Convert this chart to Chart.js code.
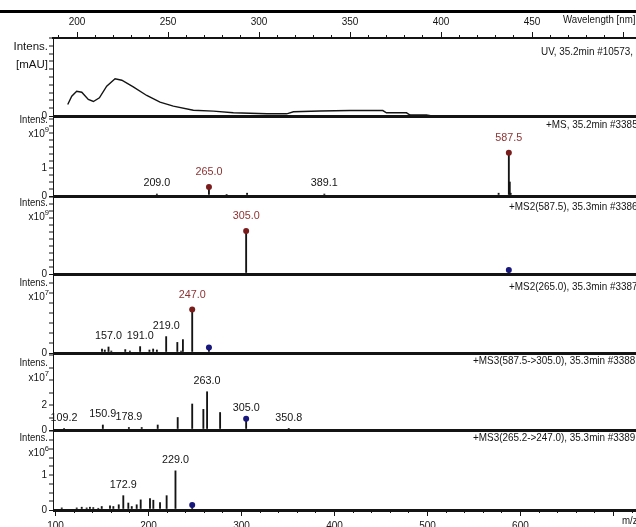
<!DOCTYPE html>
<html>
<head>
<meta charset="utf-8">
<title>UV and MS spectra, 35.2–35.3 min</title>
<script src="https://cdn.jsdelivr.net/npm/chart.js@4.4.1/dist/chart.umd.min.js"></script>
<style>
  html, body { margin: 0; padding: 0; background: #fff; }
  #stage { position: relative; width: 636px; height: 527px; overflow: hidden; background: #fff; }
  #stage canvas { position: absolute; left: 0; }
  #rule { position: absolute; left: 0; top: 10px; width: 636px; border-top: 3px solid #000; }
</style>
</head>
<body>
<div id="stage"><div id="rule"></div></div>
<script>
// ---- UV spectrum, 35.2 min ----
const uvWavelength = [194.9, 197.1, 199.8, 202.6, 206.2, 209.0, 212.3, 216.3, 220.9, 224.6, 230.9, 238.3, 245.6, 252.9, 263.9, 274.9, 285.9, 304.3, 315.2, 318.9, 333.5, 350.0, 368.0, 370.0, 381.0, 383.0, 392.0, 395.0];
const uvAbsorbance = [14.7, 25.4, 31.8, 30.5, 21.2, 18.6, 23.3, 38.2, 47.7, 45.9, 37.4, 26.3, 17.7, 12.6, 7.4, 6.2, 4.1, 2.8, 2.8, 5.4, 6.4, 7.0, 7.0, 4.1, 4.1, 1.3, 1.3, 0.0];

// ---- +MS, 35.2 min #3385 (x10^9) ----
const msMz        = [209.0, 265.0, 284.0, 306.0, 389.1, 576.5, 587.5, 588.5, 589.5];
const msIntensity = [0.07, 0.32, 0.05, 0.10, 0.07, 0.10, 1.54, 0.50, 0.10];
const msLabelled  = [209.0, 265.0, 389.1, 587.5];
const msMarked    = [265.0, 587.5];

// ---- +MS2(587.5), 35.3 min #3386 (x10^9) ----
const ms2aMz        = [305.0, 587.5];
const ms2aIntensity = [1.54, 0.14];
const ms2aLabelled  = [305.0];
const ms2aMarked    = [305.0];
const ms2aPrecursor = [587.5];

// ---- +MS2(265.0), 35.3 min #3387 (x10^7) ----
const ms2bMz        = [150.0, 153.0, 157.0, 160.0, 175.0, 180.0, 191.0, 201.0, 205.0, 209.0, 219.0, 231.0, 235.0, 237.0, 247.0, 265.0];
const ms2bIntensity = [0.20, 0.15, 0.30, 0.10, 0.17, 0.10, 0.32, 0.15, 0.20, 0.15, 0.82, 0.53, 0.10, 0.67, 2.17, 0.28];
const ms2bLabelled  = [157.0, 191.0, 219.0, 247.0];
const ms2bMarked    = [247.0];
const ms2bPrecursor = [265.0];

// ---- +MS3(587.5->305.0), 35.3 min #3388 (x10^7) ----
const ms3aMz        = [109.2, 150.9, 178.9, 192.7, 209.9, 231.4, 247.0, 259.0, 263.0, 277.0, 305.0, 350.8];
const ms3aIntensity = [0.08, 0.40, 0.20, 0.20, 0.40, 1.00, 2.08, 1.65, 3.06, 1.40, 0.90, 0.10];
const ms3aLabelled  = [109.2, 150.9, 178.9, 263.0, 305.0, 350.8];
const ms3aMarked    = [];
const ms3aPrecursor = [305.0];

// ---- +MS3(265.2->247.0), 35.3 min #3389 (x10^6) ----
const ms3bMz        = [106.7, 122.8, 128.2, 133.5, 137.0, 140.6, 146.0, 149.7, 158.6, 162.2, 168.0, 172.9, 178.3, 182.0, 187.3, 191.6, 201.6, 205.2, 212.4, 219.5, 229.0, 247.0];
const ms3bIntensity = [0.06, 0.06, 0.08, 0.06, 0.08, 0.07, 0.05, 0.10, 0.12, 0.10, 0.15, 0.41, 0.20, 0.10, 0.15, 0.29, 0.33, 0.28, 0.21, 0.41, 1.12, 0.14];
const ms3bLabelled  = [172.9, 229.0];
const ms3bMarked    = [];
const ms3bPrecursor = [247.0];

// ---- axis ticks ----
const wavelengthTicks = [200, 250, 300, 350, 400, 450];
const mzTicks = [100, 200, 300, 400, 500, 600];

// ---- drawing setup ----
const FONT = "'Liberation Sans', Arial, sans-serif";
const INK = '#141414';
const RED_MARK = '#7a1c1c', RED_TEXT = '#8e3232', BLUE_MARK = '#17177c';
const MZ_MIN = 97.3, MZ_MAX = 739.3;
const WL_MIN = 186.8, WL_MAX = 514.8;
const CANVAS_W = 660, PAD_RIGHT = 10, AXIS_W = 53;

const pts = (xs, ys) => xs.map((x, i) => ({ x, y: ys[i] }));
const pick = (mzs, intens, wanted) => wanted.map(m => ({ x: m, y: intens[mzs.indexOf(m)] }));

// condensed lettering: draw with a horizontal squeeze
function squeezed(ctx, str, x, y, align, size, sx) {
  ctx.save();
  ctx.translate(x, y);
  ctx.scale(sx, 1);
  ctx.font = size + 'px ' + FONT;
  ctx.textAlign = align;
  ctx.textBaseline = 'middle';
  ctx.fillText(str, 0, 0);
  const w = ctx.measureText(str).width * sx;
  ctx.restore();
  return w;
}

// Text layer: peak labels, intensity captions, trace titles, axis titles
const spectrumText = {
  id: 'spectrumText',
  afterDraw(chart, args, o) {
    const { ctx, chartArea: a } = chart;
    ctx.save();
    if (o.labelled) {
      const ds = chart.data.datasets[0];
      const meta = chart.getDatasetMeta(0);
      o.labelled.forEach(mz => {
        const i = ds.data.findIndex(p => p.x === mz);
        if (i < 0) return;
        const el = meta.data[i];
        const red = o.marked.includes(mz);
        ctx.fillStyle = red ? RED_TEXT : INK;
        squeezed(ctx, mz.toFixed(1), el.x, el.y - (red ? 15 : 11), 'center', 11, 0.98);
      });
    }
    ctx.fillStyle = INK;
    const cs = o.capSize, cx = o.capSx;
    squeezed(ctx, 'Intens.', 48, a.top + o.capY[0], 'right', cs, cx);
    if (o.unit) squeezed(ctx, o.unit, 48, a.top + o.capY[1], 'right', cs, cx);
    if (o.exp) {
      const w = squeezed(ctx, o.exp, 49, a.top + o.capY[1] - 4, 'right', 8, 0.95);
      squeezed(ctx, 'x10', 49 - w, a.top + o.capY[1], 'right', 11, 0.92);
    }
    squeezed(ctx, o.title, o.titleX, a.top + o.titleY, 'left', 11, 0.9);
    if (o.axisText) squeezed(ctx, o.axisText.text, o.axisText.x, o.axisText.y, 'left', 10, 0.97);
    ctx.restore();
  }
};
Chart.register(spectrumText);

const panels = [
  { kind: 'uv', top: 38, bottom: 116, yMax: 100, yStep: 10, yLabels: [0],
    title: 'UV, 35.2min #10573,', titleX: 541, titleY: 14, capY: [9, 27], capSize: 10, capSx: 1.15, unit: '[mAU]' },
  { kind: 'ms', top: 117, bottom: 196, yMax: 2.82, yStep: 0.25, yLabels: [0, 1],
    mz: msMz, inten: msIntensity, labelled: msLabelled, marked: msMarked, precursor: [],
    title: '+MS, 35.2min #3385', titleX: 546, titleY: 8, capY: [3, 17], exp: '9' },
  { kind: 'ms', top: 197, bottom: 274, yMax: 2.75, yStep: 0.25, yLabels: [0],
    mz: ms2aMz, inten: ms2aIntensity, labelled: ms2aLabelled, marked: ms2aMarked, precursor: ms2aPrecursor,
    title: '+MS2(587.5), 35.3min #3386', titleX: 509, titleY: 10, capY: [6, 20], exp: '9' },
  { kind: 'ms', top: 275, bottom: 353, yMax: 3.9, yStep: 0.5, yLabels: [0],
    mz: ms2bMz, inten: ms2bIntensity, labelled: ms2bLabelled, marked: ms2bMarked, precursor: ms2bPrecursor,
    title: '+MS2(265.0), 35.3min #3387', titleX: 509, titleY: 12, capY: [8, 22], exp: '7' },
  { kind: 'ms', top: 354, bottom: 430, yMax: 6.08, yStep: 1, yLabels: [0, 2],
    mz: ms3aMz, inten: ms3aIntensity, labelled: ms3aLabelled, marked: ms3aMarked, precursor: ms3aPrecursor,
    title: '+MS3(587.5->305.0), 35.3min #3388', titleX: 473, titleY: 7, capY: [9, 24], exp: '7' },
  { kind: 'ms', top: 431, bottom: 510, yMax: 2.26, yStep: 0.25, yLabels: [0, 1], bottomAxis: true,
    mz: ms3bMz, inten: ms3bIntensity, labelled: ms3bLabelled, marked: ms3bMarked, precursor: ms3bPrecursor,
    title: '+MS3(265.2->247.0), 35.3min #3389', titleX: 473, titleY: 7, capY: [7, 22], exp: '6' }
];

function yScale(p) {
  return {
    type: 'linear', position: 'left', min: 0, max: p.yMax,
    afterFit: s => { s.width = AXIS_W; },
    ticks: {
      stepSize: p.yStep, autoSkip: false, includeBounds: false, padding: 2,
      color: INK, font: { family: FONT, size: 10 },
      callback: v => p.yLabels.includes(v) ? String(v) : ''
    },
    grid: {
      drawOnChartArea: true, drawTicks: true, tickLength: 4, tickWidth: 1, tickColor: INK,
      color: c => (c.tick && c.tick.value === 0) ? INK : 'rgba(0,0,0,0)',
      lineWidth: c => (c.tick && c.tick.value === 0) ? 3 : 0
    },
    border: { display: true, color: INK, width: 1 }
  };
}

function xPair(min, max, pos, majorStep, minorStep, labels, height, show) {
  return {
    x: {
      type: 'linear', position: pos, min, max, weight: 1, offset: false, display: show,
      afterFit: s => { s.height = height; },
      ticks: {
        stepSize: majorStep, includeBounds: false, autoSkip: false, maxRotation: 0,
        padding: 4, color: INK, font: { family: FONT, size: 10 },
        callback: v => labels.includes(v) ? String(v) : ''
      },
      grid: { offset: false, drawOnChartArea: false, drawTicks: true, tickLength: 6, tickWidth: 1, tickColor: INK },
      border: { display: pos === 'top', color: INK, width: 2 }
    },
    xMinor: {
      type: 'linear', position: pos, min, max, weight: 0, offset: false, display: show,
      afterFit: s => { s.height = 0; },
      ticks: { stepSize: minorStep, includeBounds: false, autoSkip: false, callback: () => '' },
      grid: { offset: false, drawOnChartArea: false, drawTicks: true, tickLength: 3, tickWidth: 1, tickColor: INK },
      border: { display: false }
    }
  };
}

const stage = document.getElementById('stage');

panels.forEach(p => {
  const isUV = p.kind === 'uv';
  const axisH = isUV ? 28 : (p.bottomAxis ? 17 : 0);
  const padTop = isUV ? 10 : 12;
  const padBottom = p.bottomAxis ? 5 : 10;
  const canvasTop = p.top - padTop - (isUV ? axisH : 0);
  const canvasH = (p.bottom - p.top) + padTop + padBottom + axisH;

  const cv = document.createElement('canvas');
  cv.width = CANVAS_W; cv.height = canvasH;
  cv.style.width = CANVAS_W + 'px'; cv.style.height = canvasH + 'px';
  cv.style.top = canvasTop + 'px';
  stage.appendChild(cv);

  let datasets, xs;
  if (isUV) {
    datasets = [{
      type: 'line', data: pts(uvWavelength, uvAbsorbance),
      borderColor: INK, borderWidth: 1.4, pointRadius: 0, tension: 0, fill: false
    }];
    xs = xPair(WL_MIN, WL_MAX, 'top', 50, 10, wavelengthTicks, axisH, true);
  } else {
    datasets = [
      { type: 'bar', data: pts(p.mz, p.inten), backgroundColor: INK, borderWidth: 0,
        barThickness: 1.2, grouped: false, order: 2 },
      { type: 'scatter', data: pick(p.mz, p.inten, p.marked), pointStyle: 'circle',
        pointRadius: 3, backgroundColor: RED_MARK, borderWidth: 0, order: 1 },
      { type: 'scatter', data: pick(p.mz, p.inten, p.precursor), pointStyle: 'circle',
        pointRadius: 3, backgroundColor: BLUE_MARK, borderWidth: 0, order: 1 }
    ];
    xs = xPair(MZ_MIN, MZ_MAX, 'bottom', 100, 20, mzTicks, axisH, !!p.bottomAxis);
  }

  const text = {
    title: p.title, titleX: p.titleX, titleY: p.titleY, capY: p.capY,
    capSize: p.capSize || 10, capSx: p.capSx || 0.95,
    unit: p.unit, exp: p.exp, labelled: p.labelled, marked: p.marked || []
  };
  if (isUV) text.axisText = { text: 'Wavelength [nm]', x: 563, y: 20 - canvasTop };
  if (p.bottomAxis) text.axisText = { text: 'm/z', x: 622, y: 521 - canvasTop };

  new Chart(cv, {
    type: 'bar',
    data: { datasets },
    options: {
      responsive: false, animation: false, devicePixelRatio: 1,
      layout: { padding: { top: padTop, bottom: padBottom, left: 0, right: PAD_RIGHT } },
      scales: Object.assign({}, xs, { y: yScale(p) }),
      plugins: { legend: { display: false }, tooltip: { enabled: false }, spectrumText: text }
    }
  });
});
</script>
</body>
</html>
